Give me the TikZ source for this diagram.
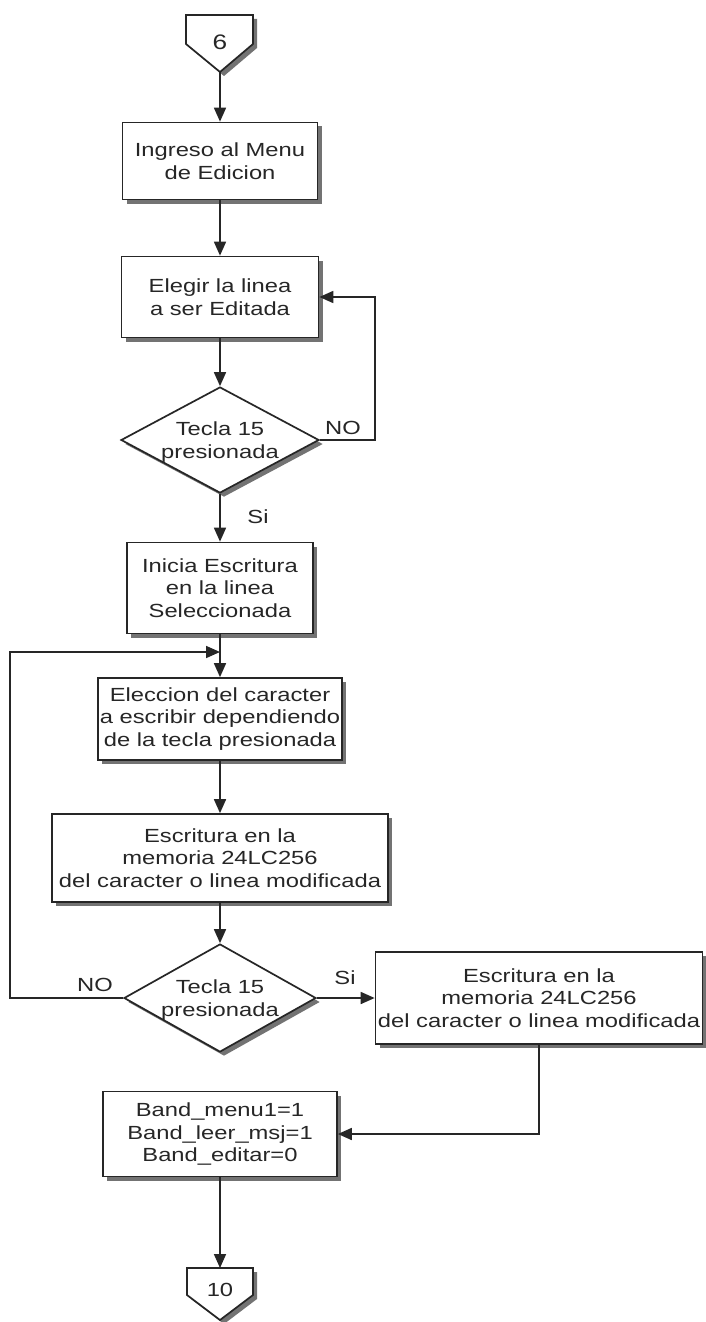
\documentclass[tikz,border=0pt]{standalone}
\usepackage{fontspec}
\setmainfont{Liberation Sans}[FakeStretch=1.25]
\usetikzlibrary{shapes.geometric,arrows.meta,shadows}

\tikzset{
  ink/.style={draw=black!85, line width=0.85pt},
  shadowc/.style={fill=black!55},
  boxshadow/.style={drop shadow={shadow xshift=2pt,shadow yshift=-2pt,fill=black!55,opacity=1}},
  proc/.style={ink, rectangle, fill=white, boxshadow, align=center, inner sep=0pt, text=black!85},
  dec/.style={ink, diamond, fill=white, boxshadow, inner sep=0pt},
  txt/.style={align=center, inner sep=0pt, text=black!85},
  lbl/.style={inner sep=0pt, text=black!85},
  flow/.style={ink, -{Triangle[length=7pt,width=6pt]}},
  every node/.append style={font=\fontsize{9.5pt}{11.25pt}\selectfont}
}

\begin{document}
\begin{tikzpicture}[x=0.5pt,y=-0.5pt]
\fill[white] (0,0) rectangle (706,1322);
\useasboundingbox (0,0) rectangle (706,1322);

% off-page connector 6
\fill[shadowc, xshift=2pt, yshift=-2pt] (186,15) -- (253,15) -- (253,44) -- (220,72) -- (186,44) -- cycle;
\draw[ink, fill=white] (186,15) -- (253,15) -- (253,44) -- (220,72) -- (186,44) -- cycle;
\node[lbl, font=\fontsize{10.5pt}{12pt}\selectfont] (c6) at (220,42) {6};
\coordinate (c6tip) at (220,72);

% process steps and decisions
\node[proc, minimum width=97.5pt, minimum height=38.5pt] (b1) at (220,161) {Ingreso al Menu\\de Edicion};
\node[proc, minimum width=98.5pt, minimum height=40.5pt] (b2) at (220,297) {Elegir la linea\\a ser Editada};
\node[dec, minimum width=99pt, minimum height=53pt] (d1) at (220,440) {};
\node[txt] (d1t) at (220,442) {Tecla 15\\presionada};
\node[proc, minimum width=93pt, minimum height=45.5pt] (b3) at (220,588) {Inicia Escritura\\en la linea\\Seleccionada};
\node[proc, minimum width=122pt, minimum height=41pt] (b4) at (220,719) {Eleccion del caracter\\a escribir dependiendo\\de la tecla presionada};
\node[proc, minimum width=168pt, minimum height=44pt] (b5) at (220,858) {Escritura en la\\memoria 24LC256\\del caracter o linea modificada};
\node[dec, minimum width=96pt, minimum height=54pt] (d2) at (220,998) {};
\node[txt] (d2t) at (220,1000) {Tecla 15\\presionada};
\node[proc, minimum width=163.5pt, minimum height=46pt] (b6) at (539,998) {Escritura en la\\memoria 24LC256\\del caracter o linea modificada};
\node[proc, minimum width=117pt, minimum height=42.5pt] (b7) at (220,1134) {Band\_menu1=1\\Band\_leer\_msj=1\\Band\_editar=0};

% off-page connector 10
\fill[shadowc, xshift=2pt, yshift=-2pt] (187,1268) -- (253,1268) -- (253,1295) -- (220,1320) -- (187,1295) -- cycle;
\draw[ink, fill=white] (187,1268) -- (253,1268) -- (253,1295) -- (220,1320) -- (187,1295) -- cycle;
\node[lbl] (c10) at (220,1290) {10};
\coordinate (c10top) at (220,1268);

% branch labels
\node[lbl] (no1) at (343,428) {NO};
\node[lbl] (si1) at (258,517) {Si};
\node[lbl] (no2) at (95,985) {NO};
\node[lbl] (si2) at (345,978) {Si};

% connectors
\coordinate (join) at (220,652);
\draw[flow] (c6tip) -- (b1);
\draw[flow] (b1) -- (b2);
\draw[flow] (b2) -- (d1);
\draw[flow] (d1.east) -- ++(55,0) |- (b2.east);
\draw[flow] (d1.south) -- (b3.north);
\draw[flow] (b3.south) -- (b4.north);
\draw[flow] (d2.west) -- ++(-113,0) |- (join);
\draw[flow] (b4) -- (b5);
\draw[flow] (b5) -- (d2);
\draw[flow] (d2.east) -- (b6.west);
\draw[flow] (b6.south) |- (b7.east);
\draw[flow] (b7) -- (c10top);
\end{tikzpicture}
\end{document}
